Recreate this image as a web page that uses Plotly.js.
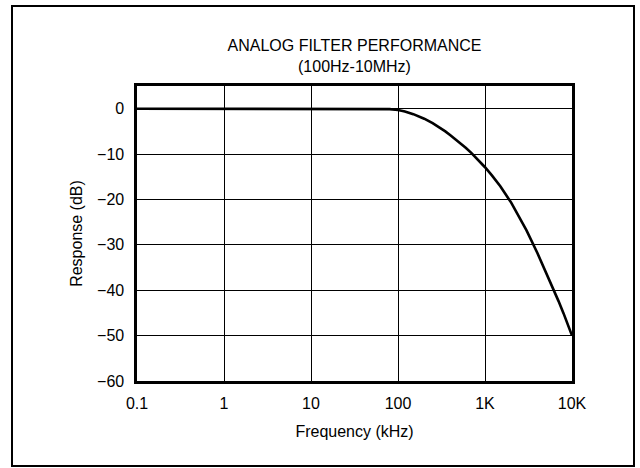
<!DOCTYPE html>
<html>
<head>
<meta charset="utf-8">
<script src="https://cdn.plot.ly/plotly-3.0.1.min.js"></script>
<style>
  html, body { margin: 0; padding: 0; background: #fff; }
  #chart { width: 640px; height: 468px; }
</style>
</head>
<body>
<div id="chart"></div>
<script>
// Frequency response of the analog filter (frequency in kHz, response in dB)
const freqKHz = [0.1, 1, 10, 40, 60, 80, 100, 120, 150, 200, 250, 300, 350, 400, 500, 600,
                 700, 800, 1000, 1200, 1500, 2000, 2500, 3000, 4000, 5000, 6000, 7000,
                 8000, 9000, 10000];
const responseDb = [0, 0, 0, 0, -0.02, -0.1, -0.3, -0.6, -1.2, -2.2, -3.2, -4.1, -5.0, -5.85,
                    -7.3, -8.6, -9.8, -10.9, -12.9, -14.7, -17.1, -20.7, -23.9, -26.8,
                    -31.8, -35.9, -39.4, -42.4, -45.1, -47.6, -50];

// Axis ticks
const xTickVals = [0.1, 1, 10, 100, 1000, 10000];
const xTickText = ['0.1', '1', '10', '100', '1K', '10K'];
const yTickVals = [0, -10, -20, -30, -40, -50, -60];

const W = 640, H = 468;
const margin = { l: 137, r: 68, t: 86, b: 87 };
const plotW = W - margin.l - margin.r;
const plotH = H - margin.t - margin.b;
// convert page pixels to paper coordinates for the outer frame
const px = x => (x - margin.l) / plotW;
const py = y => (H - margin.b - y) / plotH;

const font = { family: 'Arial, "Liberation Sans", sans-serif', size: 16, color: '#000' };

const trace = {
  x: freqKHz,
  y: responseDb,
  type: 'scatter',
  mode: 'lines',
  line: { color: '#000', width: 2.6, shape: 'linear' },
  hoverinfo: 'skip'
};

const layout = {
  width: W,
  height: H,
  margin: margin,
  paper_bgcolor: '#fff',
  plot_bgcolor: '#fff',
  font: font,
  showlegend: false,
  title: {
    text: 'ANALOG FILTER PERFORMANCE<br>(100Hz-10MHz)',
    font: { family: font.family, size: 16, color: '#000' },
    x: 0.5, xref: 'paper', xanchor: 'center',
    y: 1 - 51 / H, yref: 'container', yanchor: 'top'
  },
  xaxis: {
    type: 'log',
    range: [-1, 4],
    tickvals: xTickVals,
    ticktext: xTickText,
    ticks: 'outside',
    ticklen: 6,
    tickcolor: 'rgba(0,0,0,0)',
    showgrid: true,
    gridcolor: '#000',
    gridwidth: 1,
    showline: true,
    linecolor: '#000',
    linewidth: 2.6,
    mirror: true,
    zeroline: false,
    tickfont: font,
    title: { text: 'Frequency (kHz)', font: font, standoff: 15 }
  },
  yaxis: {
    range: [-60, 5],
    tickvals: yTickVals,
    ticks: 'outside',
    ticklen: 7,
    tickcolor: 'rgba(0,0,0,0)',
    showgrid: true,
    gridcolor: '#000',
    gridwidth: 1,
    showline: true,
    linecolor: '#000',
    linewidth: 2.6,
    mirror: true,
    zeroline: false,
    tickfont: font,
    title: { text: 'Response (dB)', font: font, standoff: 11 }
  },
  shapes: [{
    type: 'rect',
    xref: 'paper', yref: 'paper',
    x0: px(12), x1: px(634),
    y0: py(466), y1: py(6),
    line: { color: '#000', width: 2 },
    fillcolor: 'rgba(0,0,0,0)',
    layer: 'below'
  }]
};

Plotly.newPlot('chart', [trace], layout, { staticPlot: true, displayModeBar: false });
</script>
</body>
</html>
